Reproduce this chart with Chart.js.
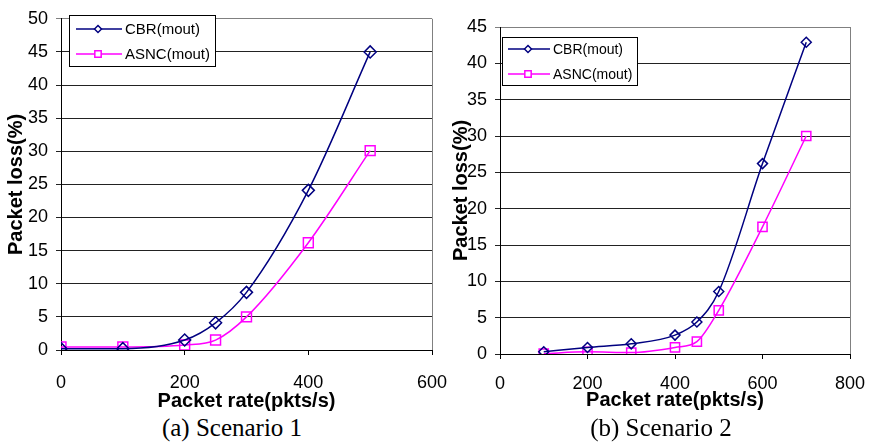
<!DOCTYPE html>
<html>
<head>
<meta charset="utf-8">
<script src="https://cdn.jsdelivr.net/npm/chart.js@4/dist/chart.umd.min.js"></script>
<style>
  body { margin: 0; background: #fff; }
  #wrap { position: relative; width: 871px; height: 446px; overflow: hidden; }
  canvas { position: absolute; top: 0; }
  #c2 { left: 440px; }
  #c1 { left: 0; z-index: 2; }
  .cap { position: absolute; top: 414px; font: 25px "Liberation Serif", "Times New Roman", serif; color: #000; transform: translateX(-50%); white-space: nowrap; }
</style>
</head>
<body>
<div id="wrap">
  <canvas id="c1" width="460" height="446"></canvas>
  <canvas id="c2" width="431" height="446"></canvas>
  <div class="cap" style="left:232px">(a) Scenario 1</div>
  <div class="cap" style="left:661px">(b) Scenario 2</div>
</div>
<script>
// Scenario 1
const rate1 = [0, 100, 200, 250, 300, 400, 500];
const cbr1 = [0.2, 0.2, 1.5, 4.1, 8.7, 24.1, 45];
const asnc1 = [0.45, 0.45, 0.75, 1.5, 5.0, 16.2, 30.1];

// Scenario 2
const rate2 = [100, 200, 300, 400, 450, 500, 600, 700];
const cbr2 = [0.3, 0.9, 1.4, 2.6, 4.4, 8.6, 26.2, 42.9];
const asnc2 = [0.05, 0.3, 0.2, 0.9, 1.7, 6.0, 17.5, 30.0];

const seriesNames = ["CBR(mout)", "ASNC(mout)"];

Chart.defaults.font.family = "'Liberation Sans', Arial, sans-serif";
Chart.defaults.color = "#000";

const toPoints = (xs, ys) => xs.map((x, i) => ({ x: x, y: ys[i] }));

// legend drawn as a boxed key inside the plot, like the original
function boxLegend(box) {
    return {
        id: "boxLegend",
        beforeDatasetsDraw(chart) {
            const { ctx, chartArea } = chart;
            ctx.save();
            ctx.strokeStyle = "#808080";
            ctx.lineWidth = 1;
            ctx.beginPath();
            ctx.moveTo(Math.round(chartArea.right) + 0.5, chartArea.top);
            ctx.lineTo(Math.round(chartArea.right) + 0.5, chartArea.bottom);
            ctx.stroke();
            ctx.restore();
        },
        afterDraw(chart) {
            const ctx = chart.ctx;
            ctx.save();
            ctx.fillStyle = "#fff";
            ctx.fillRect(box.x, box.y, box.w, box.h);
            ctx.strokeStyle = "#000";
            ctx.lineWidth = 1;
            ctx.strokeRect(box.x + 0.5, box.y + 0.5, box.w, box.h);
            chart.data.datasets.forEach((ds, i) => {
                const y = box.y + box.rowTop + i * box.rowGap;
                ctx.strokeStyle = ds.borderColor;
                ctx.lineWidth = 1.5;
                ctx.beginPath();
                ctx.moveTo(box.x + box.lineStart, y);
                ctx.lineTo(box.x + box.lineEnd, y);
                ctx.stroke();
                ctx.fillStyle = "#fff";
                Chart.helpers.drawPoint(ctx, {
                    pointStyle: ds.pointStyle,
                    radius: ds.pointStyle === "rect" ? 4.5 : 3.5,
                    borderWidth: 1.5,
                    rotation: 0
                }, box.x + box.marker, y);
                ctx.fillStyle = "#000";
                ctx.font = box.fontSize + "px 'Liberation Sans', Arial, sans-serif";
                ctx.textBaseline = "middle";
                ctx.textAlign = "left";
                ctx.fillText(ds.label, box.x + box.text, y + 1);
            });
            ctx.restore();
        }
    };
}

function makeChart(canvasId, rates, cbr, asnc, cfg) {
    const ctx = document.getElementById(canvasId).getContext("2d");
    return new Chart(ctx, {
        type: "line",
        data: {
            datasets: [
                {
                    label: seriesNames[0],
                    data: toPoints(rates, cbr),
                    borderColor: "#000080",
                    backgroundColor: "rgba(0,0,0,0)",
                    borderWidth: 1.5,
                    pointStyle: "rectRot",
                    pointRadius: cfg.diamond,
                    pointBorderWidth: 1.5,
                    cubicInterpolationMode: "monotone",
                },
                {
                    label: seriesNames[1],
                    data: toPoints(rates, asnc),
                    borderColor: "#ff00ff",
                    backgroundColor: "rgba(0,0,0,0)",
                    borderWidth: 1.5,
                    pointStyle: "rect",
                    pointRadius: cfg.square,
                    pointBorderWidth: 1.5,
                    cubicInterpolationMode: "monotone",
                },
            ],
        },
        options: {
            responsive: false,
            animation: false,
            layout: { padding: cfg.padding },
            plugins: {
                legend: { display: false },
                tooltip: { enabled: false },
            },
            scales: {
                x: {
                    type: "linear",
                    min: 0,
                    max: cfg.xMax,
                    afterFit: (scale) => { scale.height = cfg.xHeight; },
                    // a tall line height pushes the labels down without widening the side padding
                    ticks: { stepSize: 200, padding: 3, font: { size: 18, lineHeight: cfg.xLine }, color: "#000", maxRotation: 0 },
                    grid: { drawOnChartArea: false, drawTicks: true, tickLength: 5, color: "#000" },
                    border: { color: "#000", width: 1 },
                    title: {
                        display: true,
                        text: "Packet rate(pkts/s)",
                        font: { size: 20, weight: "bold" },
                        color: "#000",
                        padding: 0,
                    },
                },
                y: {
                    min: 0,
                    max: cfg.yMax,
                    afterFit: (scale) => { scale.width = cfg.yWidth; },
                    ticks: { stepSize: 5, padding: 8, font: { size: 18 }, color: "#000" },
                    grid: {
                        tickLength: 5,
                        color: (c) => (c.tick && c.tick.value === cfg.yMax ? "#808080" : "#222"),
                    },
                    border: { color: "#000", width: 1 },
                    title: {
                        display: true,
                        text: "Packet loss(%)",
                        font: { size: 20, weight: "bold" },
                        color: "#000",
                        padding: 0,
                    },
                },
            },
        },
        plugins: [boxLegend(cfg.legend)],
    });
}

makeChart("c1", rate1, cbr1, asnc1, {
    xMax: 600, yMax: 50,
    padding: { left: 4, top: 15, right: 28, bottom: 33 },
    xHeight: 63, xLine: "50px", yWidth: 57,
    diamond: 6, square: 7,
    legend: { x: 69, y: 15, w: 146, h: 51, rowTop: 14, rowGap: 25, lineStart: 7, lineEnd: 53, marker: 29, text: 56, fontSize: 15 },
});

makeChart("c2", rate2, cbr2, asnc2, {
    xMax: 800, yMax: 45,
    padding: { left: 9, top: 27, right: 21, bottom: 34 },
    xHeight: 58, xLine: "44px", yWidth: 51,
    diamond: 5, square: 6.5,
    legend: { x: 62, y: 37, w: 135, h: 48, rowTop: 12, rowGap: 25, lineStart: 6, lineEnd: 48, marker: 26, text: 51, fontSize: 14 },
});
</script>
</body>
</html>
